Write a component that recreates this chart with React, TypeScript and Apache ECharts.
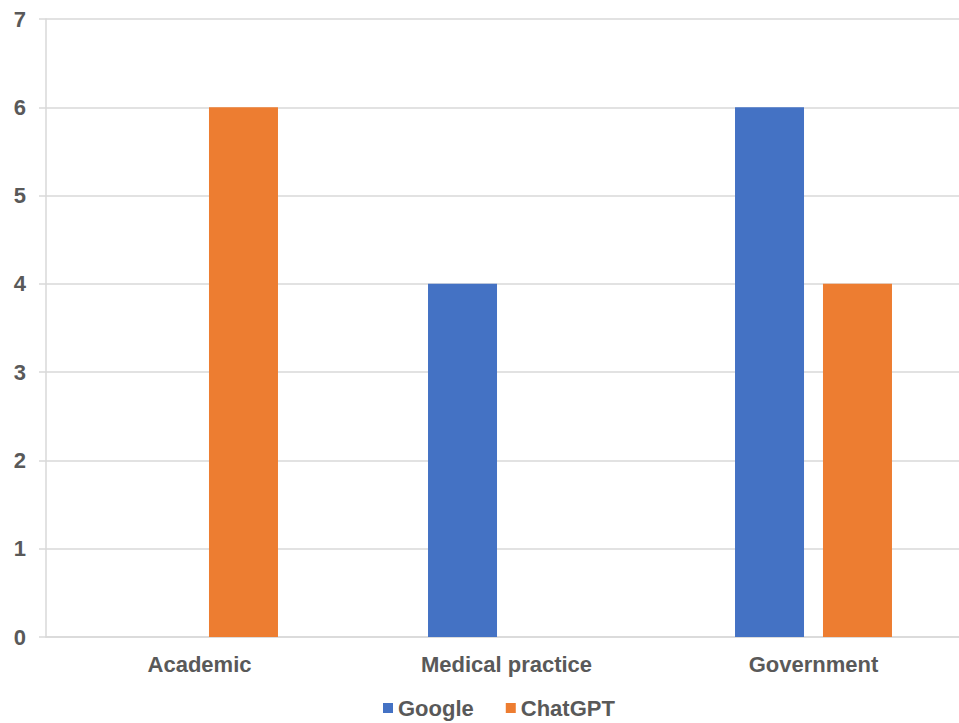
import React, { useEffect, useRef } from "react";
import * as echarts from "echarts";

const categories = ["Academic", "Medical practice", "Government"];
const googleValues = [0, 4, 6];
const chatgptValues = [6, 0, 4];
const seriesNames = ["Google", "ChatGPT"];

export default function App() {
  const ref = useRef<HTMLDivElement>(null);
  useEffect(() => {
    if (!ref.current) return;
    document.documentElement.style.overflow = "hidden";
    document.body.style.margin = "0";
    const chart = echarts.init(ref.current, null, { renderer: "svg" });
    const font = "'Liberation Sans', Arial, sans-serif";
    chart.setOption({
      animation: false,
      backgroundColor: "#ffffff",
      grid: {
        left: 46,
        top: 19,
        width: 921,
        height: 618,
        containLabel: false,
        outerBoundsMode: "none",
      },
      legend: {
        data: seriesNames,
        left: 383,
        top: 697,
        icon: "rect",
        itemWidth: 10,
        itemHeight: 10,
        itemGap: 32,
        padding: 0,
        textStyle: { fontFamily: font, fontSize: 22, fontWeight: "bold", color: "#595959" },
      },
      xAxis: {
        type: "category",
        data: categories,
        axisLine: { show: true, lineStyle: { color: "#d9d9d9", width: 1.5 } },
        axisTick: { show: false },
        axisLabel: { fontFamily: font, fontSize: 22, fontWeight: "bold", color: "#595959", margin: 16 },
      },
      yAxis: {
        type: "value",
        min: 0,
        max: 7,
        interval: 1,
        axisLine: { show: true, lineStyle: { color: "#d9d9d9", width: 1.5 } },
        axisTick: { show: true, length: 7, lineStyle: { color: "#d9d9d9", width: 1.5 } },
        splitLine: { show: true, lineStyle: { color: "#d9d9d9", width: 1.5 } },
        axisLabel: { fontFamily: font, fontSize: 22, fontWeight: "bold", color: "#595959", margin: 20 },
      },
      series: [
        {
          name: seriesNames[0],
          type: "bar",
          data: googleValues,
          barWidth: 69,
          barGap: "27.5%",
          itemStyle: { color: "#4472C4" },
        },
        {
          name: seriesNames[1],
          type: "bar",
          data: chatgptValues,
          barWidth: 69,
          barGap: "27.5%",
          itemStyle: { color: "#ED7D31" },
        },
      ],
    });
    return () => chart.dispose();
  }, []);
  return (
    <div
      ref={ref}
      style={{ position: "fixed", left: 0, top: 0, width: 959, height: 723, background: "#fff" }}
    />
  );
}
